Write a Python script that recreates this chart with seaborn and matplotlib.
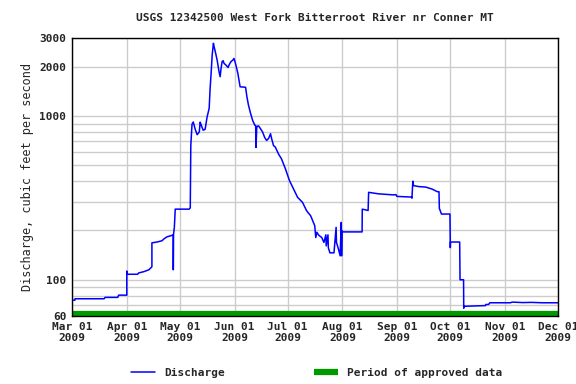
import numpy as np
import pandas as pd
import matplotlib
matplotlib.use("Agg")
import matplotlib.pyplot as plt
import matplotlib.dates as mdates
import seaborn as sns

days = [
    0, 1.65, 1.7, 18.2, 18.7, 25.9, 26.4, 31.0,
    31.0, 31.3, 37.1, 37.7, 40.6, 43.5, 45.2, 45.2, 48.1, 50.9, 52.1, 53.8, 56.1, 57.3,
    57.3, 57.4, 57.9, 58.4, 66.3, 66.9, 67.2, 67.9, 68.6, 69.7, 70.8, 72.0, 72.5, 73.1,
    74.2, 75.3, 76.4, 77.6, 78.1, 78.7, 79.3, 80.0, 80.4, 81.0, 82.1, 82.7, 83.2, 83.8,
    84.3, 84.9, 85.5, 86.0, 87.1, 88.3, 88.8, 89.9, 91.0, 91.6,
    92.2, 92.7, 93.8, 94.4, 95.1, 98.2, 98.9, 99.8, 101.0, 102.2, 103.4, 103.9, 104.1,
    104.5, 105.1, 105.6, 106.7, 107.8, 109.0, 110.1, 111.2, 112.3, 112.9, 114.0, 115.0,
    116.8, 118.5, 120.7,
    123.0, 125.3, 127.6, 130.4, 132.7, 135.0, 137.3, 137.9, 138.5, 139.6, 141.3, 142.5,
    143.6, 143.8, 144.8, 145.0, 145.9, 148.2, 149.4, 149.6, 150.5, 151.7, 152.3, 152.5,
    152.8,
    153.1, 164.1, 164.2, 167.5, 167.8, 173.3, 181.6,
    183.3, 183.8, 192.1, 192.3, 192.8, 193.2, 196.1, 200.2, 203.7, 206.7, 207.6, 207.8,
    209.0, 213.8,
    214.0, 214.1, 219.3, 219.5, 221.5, 221.6, 221.7, 233.9, 234.1, 235.7, 236.3,
    248.0, 249.0, 255.0, 260.0, 266.0, 275.0,
]
flow = [
    75, 75, 76.5, 76.5, 78, 78, 80.5, 80.5,
    113, 108, 108, 110, 112, 115, 120, 168, 170, 173, 178, 183, 186, 188,
    115, 188, 209, 270, 270, 275, 660, 893, 920, 830, 770, 800, 918, 880,
    820, 830, 985, 1117, 1457, 1830, 2362, 2785, 2650, 2490, 2200, 2000, 1860, 1740,
    1950, 2150, 2180, 2100, 2050, 1980, 2050, 2150, 2200, 2250,
    2150, 2050, 1830, 1670, 1510, 1500, 1320, 1170, 1040, 940, 880, 877, 643,
    855, 870, 870, 835, 800, 740, 710, 730, 780, 730, 660, 647,
    587, 548, 477,
    404, 359, 319, 297, 264, 246, 214, 181, 195, 187, 181, 169,
    188, 161, 188, 157, 146, 146, 209, 169, 157, 140, 224, 140,
    199,
    196, 196, 270, 265, 342, 335, 330,
    331, 323, 320, 315, 400, 376, 371, 368, 358, 345, 345, 273,
    252, 252,
    157, 170, 170, 100, 100, 67, 68.8, 69.5, 70.6, 70.6, 72.3,
    72.3, 73, 72.5, 72.7, 72.3, 72.3,
]

start = pd.Timestamp("2009-03-01")
end = pd.Timestamp("2009-12-01")
df = pd.DataFrame({
    "date": start + pd.to_timedelta(days, unit="D"),
    "discharge": flow,
})

title = "USGS 12342500 West Fork Bitterroot River nr Conner MT"
y_major = [60, 100, 1000, 2000, 3000]
y_minor = [70, 80, 90, 200, 300, 400, 500, 600, 700, 800, 900]
month_ticks = pd.date_range(start, end, freq="MS")

sns.set_style("white")
plt.rcParams["font.family"] = ["DejaVu Sans Mono"]
plt.rcParams["font.weight"] = "bold"

fig, ax = plt.subplots(figsize=(5.76, 3.84), dpi=100)
fig.subplots_adjust(left=0.125, right=0.969, top=0.901, bottom=0.177)

sns.lineplot(data=df, x="date", y="discharge", ax=ax, sort=False, estimator=None,
             color="#0000ff", linewidth=1.1, label="Discharge")

# approved-data bar along the bottom of the plot
ax.plot([start, end], [61.8, 61.8], color="#009900", linewidth=4.5,
        solid_capstyle="butt", label="Period of approved data")

ax.set_yscale("log")
ax.set_ylim(60, 3000)
ax.set_xlim(start, end)
ax.set_yticks(y_major)
ax.set_yticklabels([str(v) for v in y_major])
ax.set_yticks(y_minor, minor=True)
ax.yaxis.set_minor_formatter(matplotlib.ticker.NullFormatter())
ax.set_xticks(month_ticks)
ax.xaxis.set_major_formatter(mdates.DateFormatter("%b %d\n%Y"))

ax.grid(True, which="both", color="#cccccc", linewidth=1)
ax.set_axisbelow(True)
for s in ax.spines.values():
    s.set_color("black")
    s.set_linewidth(1)
ax.tick_params(axis="both", which="major", length=2, labelsize=8, pad=2)
ax.tick_params(axis="y", which="minor", length=0)

ax.set_xlabel("")
ax.set_ylabel("Discharge, cubic feet per second", fontsize=8.6)
ax.set_title(title, fontsize=8, fontweight="bold", pad=12)

ax.get_legend().remove()
handles, labels = ax.get_legend_handles_labels()
fig.legend(handles, labels, loc="center", bbox_to_anchor=(0.55, 0.028), ncol=2,
           frameon=False, fontsize=8, columnspacing=8, handlelength=2.2)

fig.savefig("out.png", dpi=100)
